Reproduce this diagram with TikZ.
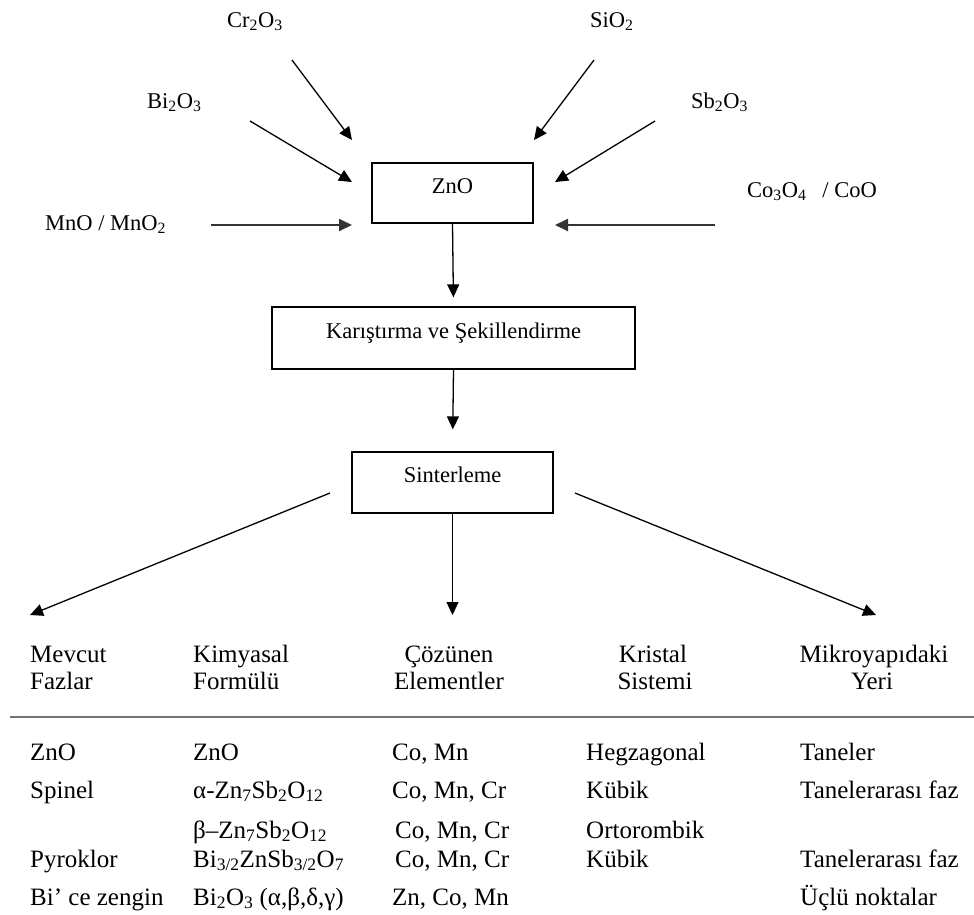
\documentclass[tikz,border=0pt]{standalone}
\usepackage{fontspec}
\setmainfont{Liberation Serif}
\usetikzlibrary{arrows.meta}
\newcommand{\sbs}[1]{\textsubscript{#1}}
\begin{document}
\begin{tikzpicture}[x=1pt,y=-1pt,
  lab/.style={anchor=base west, inner sep=0pt, font=\fontsize{22.5}{26}\selectfont},
  tab/.style={anchor=base west, inner sep=0pt, font=\fontsize{25}{28}\selectfont},
  hdr/.style={anchor=base, inner sep=0pt, font=\fontsize{25}{28}\selectfont},
  box/.style={draw, line width=1.3pt, inner sep=0pt, text height=12pt, text depth=12pt,
              font=\fontsize{22.5}{26}\selectfont},
  arr/.style={line width=1.3pt, -{Triangle[length=13pt,width=12pt]}},
  harr/.style={line width=1.9pt, black!80, -{Triangle[length=13pt,width=12pt]}}]
\useasboundingbox (0,0) rectangle (974,914);

% boxes
\node[box, minimum width=161pt, minimum height=60pt] (zno) at (452.5,193) {ZnO};
\node[box, minimum width=363pt, minimum height=62pt] (kar) at (453.5,338) {Karıştırma ve Şekillendirme};
\node[box, minimum width=201pt, minimum height=61pt] (sin) at (452.5,482.5) {Sinterleme};

% input labels
\node[lab] (cr) at (227,27) {Cr\sbs{2}O\sbs{3}};
\node[lab] (bi) at (147,108) {Bi\sbs{2}O\sbs{3}};
\node[lab] (mn) at (45,230) {MnO / MnO\sbs{2}};
\node[lab] (si) at (590,27) {SiO\sbs{2}};
\node[lab] (sb) at (691,108) {Sb\sbs{2}O\sbs{3}};
\node[lab] (co) at (747,197) {Co\sbs{3}O\sbs{4}\hspace{16pt}/ CoO};

% input arrow ends
\coordinate (crs) at (292,60);  \coordinate (cre) at (352,140);
\coordinate (bis) at (250,121); \coordinate (bie) at (352,182);
\coordinate (mns) at (211,225); \coordinate (mne) at (352,225);
\coordinate (sis) at (594,60);  \coordinate (sie) at (534,140);
\coordinate (sbs) at (655,121); \coordinate (sbe) at (555,182);
\coordinate (cos) at (715,225); \coordinate (coe) at (555,225);

\draw[arr] (crs) -- (cre);
\draw[arr] (bis) -- (bie);
\draw[harr] (mns) -- (mne);
\draw[arr] (sis) -- (sie);
\draw[arr] (sbs) -- (sbe);
\draw[harr] (cos) -- (coe);

% process arrows
\draw[arr, shorten >=9pt] (zno.south) -- (kar.north);
\draw[arr, shorten >=22pt] (kar.south) -- (sin.north);

% output arrows
\coordinate (ls) at (330,493); \coordinate (lt) at (30,615);
\coordinate (rs) at (575,493); \coordinate (rt) at (876,615);
\coordinate (mt) at (452.5,615);
\draw[arr] (ls) -- (lt);
\draw[arr] (sin.south) -- (mt);
\draw[arr] (rs) -- (rt);

% table header
\node[tab] (h1a) at (30,662) {Mevcut};
\node[tab] (h1b) at (30,689) {Fazlar};
\node[tab] (h2a) at (193,662) {Kimyasal};
\node[tab] (h2b) at (193,689) {Formülü};
\node[hdr] (h3a) at (449,662) {Çözünen};
\node[hdr] (h3b) at (449,689) {Elementler};
\node[hdr] (h4a) at (653,662) {Kristal};
\node[hdr] (h4b) at (655,689) {Sistemi};
\node[hdr] (h5a) at (874,662) {Mikroyapıdaki};
\node[hdr] (h5b) at (872,689) {Yeri};

\coordinate (rl) at (10,717); \coordinate (rr) at (974,717);
\draw[line width=2.6pt, black!55] (rl) -- (rr);

% rows
\node[tab] (r1a) at (30,760) {ZnO};
\node[tab] (r1b) at (193,760) {ZnO};
\node[tab] (r1c) at (392,760) {Co, Mn};
\node[tab] (r1d) at (586,760) {Hegzagonal};
\node[tab] (r1e) at (800,760) {Taneler};

\node[tab] (r2a) at (30,798) {Spinel};
\node[tab] (r2b) at (193,798) {α-Zn\sbs{7}Sb\sbs{2}O\sbs{12}};
\node[tab] (r2c) at (392,798) {Co, Mn, Cr};
\node[tab] (r2d) at (586,798) {Kübik};
\node[tab] (r2e) at (800,798) {Tanelerarası faz};

\node[tab] (r3b) at (193,838) {β–Zn\sbs{7}Sb\sbs{2}O\sbs{12}};
\node[tab] (r3c) at (395,838) {Co, Mn, Cr};
\node[tab] (r3d) at (586,838) {Ortorombik};

\node[tab] (r4a) at (30,867) {Pyroklor};
\node[tab] (r4b) at (193,867) {Bi\sbs{3/2}ZnSb\sbs{3/2}O\sbs{7}};
\node[tab] (r4c) at (395,867) {Co, Mn, Cr};
\node[tab] (r4d) at (586,867) {Kübik};
\node[tab] (r4e) at (800,867) {Tanelerarası faz};

\node[tab] (r5a) at (30,905) {Bi’ ce zengin};
\node[tab] (r5b) at (193,905) {Bi\sbs{2}O\sbs{3} (α,β,δ,γ)};
\node[tab] (r5c) at (392,905) {Zn, Co, Mn};
\node[tab] (r5e) at (800,905) {Üçlü noktalar};
\end{tikzpicture}
\end{document}
